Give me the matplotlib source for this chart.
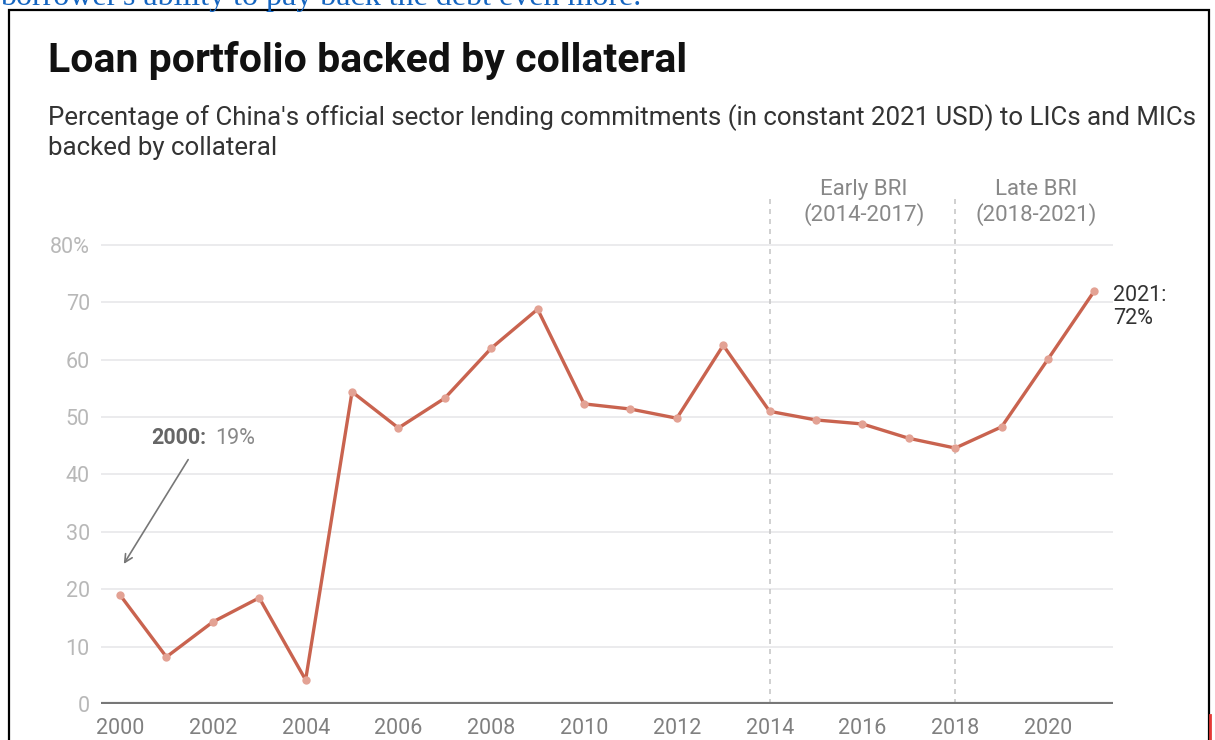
import matplotlib.pyplot as plt
from matplotlib.patches import Rectangle
from matplotlib.lines import Line2D
from matplotlib.transforms import Bbox, TransformedBbox

# Share of lending commitments backed by collateral, by year
years = list(range(2000, 2022))
collateral_pct = [19.0, 8.2, 14.3, 18.5, 4.2, 54.4, 48.1, 53.3, 62.0, 68.8,
                  52.3, 51.4, 49.8, 62.5, 51.0, 49.5, 48.8, 46.3, 44.6, 48.3,
                  60.1, 72.0]

y_ticks = [0, 10, 20, 30, 40, 50, 60, 70, 80]
y_tick_labels = ['0', '10', '20', '30', '40', '50', '60', '70', '80%']
x_ticks = [2000, 2002, 2004, 2006, 2008, 2010, 2012, 2014, 2016, 2018, 2020]
period_breaks = [2014, 2018]
period_labels = ['Early BRI\n(2014-2017)', 'Late BRI\n(2018-2021)']
period_centers = [2016.03, 2019.74]

W, H = 1215, 740
fig = plt.figure(figsize=(W / 100, H / 100), dpi=100)
fig.patch.set_facecolor('white')

font = ['Roboto', 'DejaVu Sans']
line_color = '#c9634f'

# everything right of the frame is cut off
frame_clip = TransformedBbox(Bbox([[0, 0], [1208 / W, 1]]), fig.transFigure)

# page text running into the top edge
fig.text(0.0, 1 - 5 / H, "borrower's ability to pay back the debt even more.",
         family=['Liberation Serif'], fontsize=23, color='#1565c0',
         ha='left', va='baseline')

# frame around the graphic
fig.add_artist(Rectangle((9 / W, -0.05), 1200 / W, 1.05 - 10 / H,
                         transform=fig.transFigure, fill=False,
                         edgecolor='black', linewidth=1.6))
fig.add_artist(Line2D([1210 / W, 1210 / W], [0, 25 / H],
                      transform=fig.transFigure, color='#e53935', linewidth=2))

fig.text(48 / W, 1 - 60 / H, 'Loan portfolio backed by collateral',
         family=font, fontsize=29.5, fontweight='bold', color='#111111',
         ha='left', va='center')
sub = fig.text(48 / W, 1 - 118 / H,
               "Percentage of China's official sector lending commitments "
               "(in constant 2021 USD) to LICs and MICs",
               family=font, fontsize=18.6, color='#333333', ha='left',
               va='center')
sub.set_clip_box(frame_clip)
sub.set_clip_on(True)
fig.text(48 / W, 1 - 148 / H, 'backed by collateral',
         family=font, fontsize=18.6, color='#333333', ha='left', va='center')

ax = fig.add_axes([101 / W, 36 / H, 1012 / W, 509 / H])
ax.set_xlim(1999.59, 2021.40)
ax.set_ylim(0, 88.7)
ax.patch.set_alpha(0)

for v in y_ticks[1:]:
    ax.axhline(v, color='#e9e9ec', linewidth=1.3, zorder=0)
ax.axhline(0, color='#777777', linewidth=3, zorder=1)

for yr in period_breaks:
    ax.axvline(yr, color='#c8c8c8', linewidth=1.2, linestyle=(0, (3, 3)),
               zorder=0)
for cx, lab in zip(period_centers, period_labels):
    ax.text(cx, 91.5, lab, family=font, fontsize=16, color='#888888',
            ha='center', va='top', linespacing=1.2)

ax.plot(years, collateral_pct, color=line_color, linewidth=2.4, zorder=3,
        marker='o', markersize=6, markerfacecolor='#e3a294',
        markeredgecolor='none')

for s in ax.spines.values():
    s.set_visible(False)
ax.tick_params(length=0)
ax.set_yticks(y_ticks)
ax.set_yticklabels(y_tick_labels, family=font, fontsize=15.5, color='#b8b8b8')
ax.tick_params(axis='y', pad=8)
ax.set_xticks(x_ticks)
ax.set_xticklabels([str(x) for x in x_ticks], family=font, fontsize=15.5,
                   color='#808080')
ax.tick_params(axis='x', pad=10)

# end-point label
ax.text(2021.4, collateral_pct[-1] + 1.0,
        f'{years[-1]}:\n{collateral_pct[-1]:.0f}%',
        family=font, fontsize=15.5, color='#333333', ha='left', va='top',
        linespacing=1.15, clip_on=False)

# start-point callout
ax.text(2000.68, 46.3, '2000:', family=font, fontsize=15.5, fontweight='bold',
        color='#666666', ha='left', va='center')
ax.text(2002.05, 46.3, f'{collateral_pct[0]:.0f}%', family=font,
        fontsize=15.5, color='#888888', ha='left', va='center')
ax.annotate('', xy=(2000.05, 24.0), xytext=(2001.5, 43.0),
            arrowprops=dict(arrowstyle='->', color='#777777', linewidth=1.2,
                            mutation_scale=14))

fig.savefig('out.png', dpi=100, facecolor='white')
